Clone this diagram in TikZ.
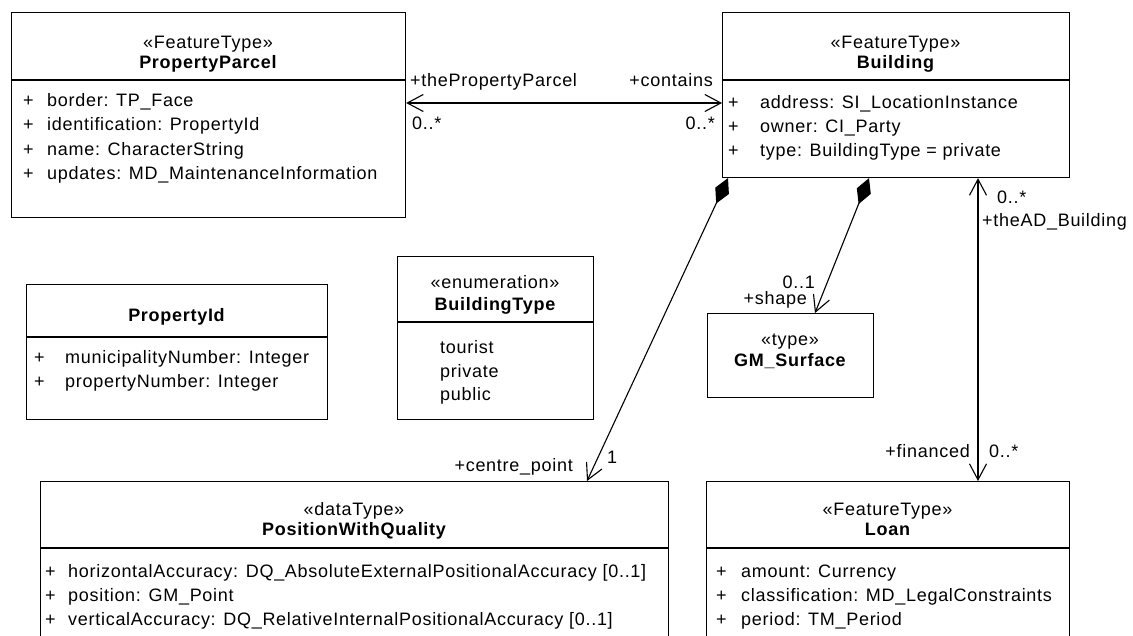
\documentclass[tikz,border=0pt]{standalone}
\usepackage{fontspec}
\setmainfont{Liberation Sans}[LetterSpace=4]
\usetikzlibrary{arrows.meta}
\tikzset{
	cls/.style={draw,line width=1.1pt,anchor=north west,inner sep=0pt},
	divider/.style={line width=1.1pt},
	txt/.style={inner sep=0pt,anchor=base west},
	txtr/.style={inner sep=0pt,anchor=base east},
	ster/.style={inner sep=0pt,anchor=base},
	cname/.style={inner sep=0pt,anchor=base,font=\fontsize{18pt}{24pt}\selectfont\bfseries},
	assoc/.style={line width=1.1pt,{Straight Barb[length=16pt,width=17pt]}-{Straight Barb[length=16pt,width=17pt]}},
	comp/.style={line width=1.1pt,{Diamond[length=28pt,width=15pt,fill=black]}-{Straight Barb[length=16pt,width=17pt]}}
}
\begin{document}
\begin{tikzpicture}[x=1pt,y=-1pt,every node/.style={font=\fontsize{18pt}{24pt}\selectfont}]
	\useasboundingbox (0,0) rectangle (1133,636);
	\fill[white] (0,0) rectangle (1133,636);
	% PropertyParcel
	\node[cls,minimum width=394pt,minimum height=205pt] at (11,12) (pp) {};
	\draw[divider] (pp.west |- 0,80) -- (pp.east |- 0,80);
	\node[ster] at (208,48.5) (ppst) {«FeatureType»};
	\node[cname] at (208,68.5) (ppnm) {PropertyParcel};
	\node[txt] at (23,106.5) (ppp1) {+};
	\node[txt] at (23,131) (ppp2) {+};
	\node[txt] at (23,155.5) (ppp3) {+};
	\node[txt] at (23,180) (ppp4) {+};
	\node[txt] at (47,106.5) (ppa1) {border: TP\_Face};
	\node[txt] at (47,131) (ppa2) {identification: PropertyId};
	\node[txt] at (47,155.5) (ppa3) {name: CharacterString};
	\node[txt] at (47,180) (ppa4) {updates: MD\_MaintenanceInformation};
	% Building
	\node[cls,minimum width=347pt,minimum height=165pt] at (722,12) (bld) {};
	\draw[divider] (bld.west |- 0,80) -- (bld.east |- 0,80);
	\node[ster] at (895.5,48.5) (bldst) {«FeatureType»};
	\node[cname] at (895.5,68.5) (bldnm) {Building};
	\node[txt] at (728,108.5) (bldp1) {+};
	\node[txt] at (728,132.5) (bldp2) {+};
	\node[txt] at (728,156.5) (bldp3) {+};
	\node[txt] at (760,108.5) (blda1) {address: SI\_LocationInstance};
	\node[txt] at (760,132.5) (blda2) {owner: CI\_Party};
	\node[txt] at (760,156.5) (blda3) {type: BuildingType = private};
	% PropertyId
	\node[cls,minimum width=301pt,minimum height=135pt] at (26,284) (pid) {};
	\draw[divider] (pid.west |- 0,337) -- (pid.east |- 0,337);
	\node[cname] at (176.5,321.5) (pidnm) {PropertyId};
	\node[txt] at (34,363.5) (pidp1) {+};
	\node[txt] at (34,387.5) (pidp2) {+};
	\node[txt] at (65,363.5) (pida1) {municipalityNumber: Integer};
	\node[txt] at (65,387.5) (pida2) {propertyNumber: Integer};
	% BuildingType
	\node[cls,minimum width=196pt,minimum height=163pt] at (397,256) (bt) {};
	\draw[divider] (bt.west |- 0,322) -- (bt.east |- 0,322);
	\node[ster] at (495,288.5) (btst) {«enumeration»};
	\node[cname] at (495,310.5) (btnm) {BuildingType};
	\node[txt] at (440,353.5) (bta1) {tourist};
	\node[txt] at (440,377.5) (bta2) {private};
	\node[txt] at (440,400.5) (bta3) {public};
	% GM_Surface
	\node[cls,minimum width=166pt,minimum height=84pt] at (707,313) (gms) {};
	\node[ster] at (790,345.5) (gmsst) {«type»};
	\node[cname] at (790,366.5) (gmsnm) {GM\_Surface};
	% PositionWithQuality
	\node[cls,minimum width=628pt,minimum height=170pt] at (40,481) (pwq) {};
	\draw[divider] (pwq.west |- 0,548) -- (pwq.east |- 0,548);
	\node[ster] at (354,515.5) (pwqst) {«dataType»};
	\node[cname] at (354,535.5) (pwqnm) {PositionWithQuality};
	\node[txt] at (45,577.5) (pwqp1) {+};
	\node[txt] at (45,601.5) (pwqp2) {+};
	\node[txt] at (45,625.5) (pwqp3) {+};
	\node[txt] at (68,577.5) (pwqa1) {horizontalAccuracy: DQ\_AbsoluteExternalPositionalAccuracy [0..1]};
	\node[txt] at (68,601.5) (pwqa2) {position: GM\_Point};
	\node[txt] at (68,625.5) (pwqa3) {verticalAccuracy: DQ\_RelativeInternalPositionalAccuracy [0..1]};
	% Loan
	\node[cls,minimum width=363pt,minimum height=170pt] at (706,481) (loan) {};
	\draw[divider] (loan.west |- 0,548) -- (loan.east |- 0,548);
	\node[ster] at (887.5,515.5) (loanst) {«FeatureType»};
	\node[cname] at (887.5,535.5) (loannm) {Loan};
	\node[txt] at (716,577.5) (loanp1) {+};
	\node[txt] at (716,601.5) (loanp2) {+};
	\node[txt] at (716,625.5) (loanp3) {+};
	\node[txt] at (741,577.5) (loana1) {amount: Currency};
	\node[txt] at (741,601.5) (loana2) {classification: MD\_LegalConstraints};
	\node[txt] at (741,625.5) (loana3) {period: TM\_Period};
	% associations
	\draw[assoc] (pp.east |- 0,103) -- (bld.west |- 0,103);
	\node[txt] at (410,86.5) (ppr) {+thePropertyParcel};
	\node[txtr] at (713,86.5) (bldr) {+contains};
	\node[txt] at (412,129.5) (ppm) {0..*};
	\node[txtr] at (715,129.5) (bldm) {0..*};
	\draw[comp] (bld.south -| 728,0) -- (pwq.north -| 587,0);
	\node[txtr] at (573,471) (pwqr) {+centre\_point};
	\node[txt] at (607,463) (pwqm) {1};
	\draw[comp] (bld.south -| 869,0) -- (gms.north -| 815,0);
	\node[txtr] at (815,288.5) (gmsm) {0..1};
	\node[txtr] at (807,304.5) (gmsr) {+shape};
	\draw[assoc] (bld.south -| 978,0) -- (loan.north -| 978,0);
	\node[txt] at (997,203.5) (bldm2) {0..*};
	\node[txt] at (982,226.5) (bldr2) {+theAD\_Building};
	\node[txtr] at (970,457.5) (loanr) {+financed};
	\node[txt] at (989,457.5) (loanm) {0..*};
\end{tikzpicture}
\end{document}
